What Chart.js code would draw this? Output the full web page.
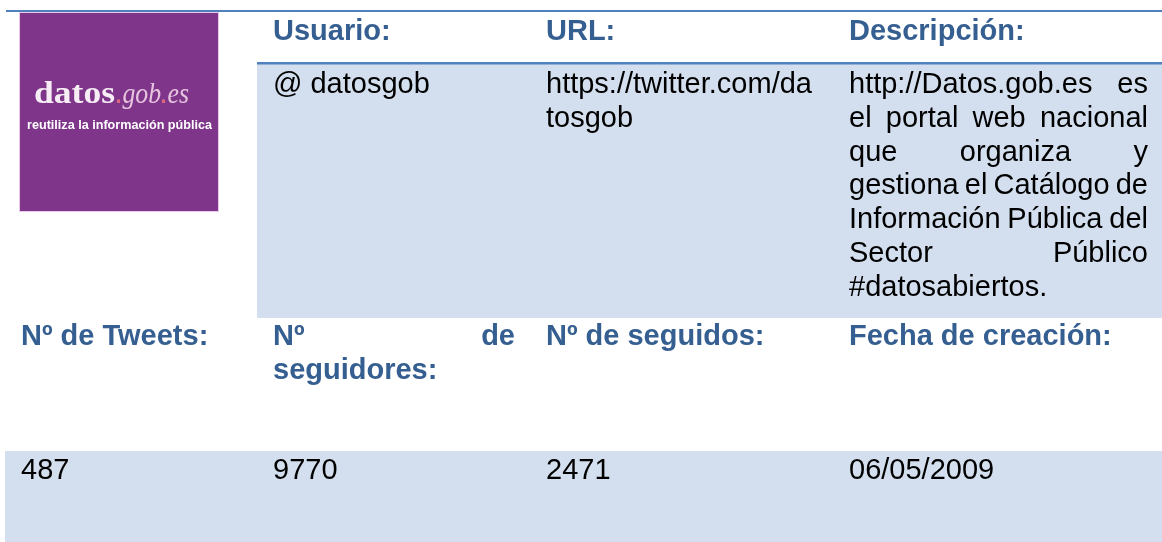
<!DOCTYPE html>
<html>
<head>
<meta charset="utf-8">
<script src="https://cdn.jsdelivr.net/npm/chart.js@4.4.1/dist/chart.umd.min.js"></script>
<style>
  html, body { margin: 0; padding: 0; background: #fff; }
  #wrap { width: 1162px; height: 542px; }
</style>
</head>
<body>
<div id="wrap"><canvas id="tabla" width="1162" height="542"></canvas></div>
<script>
// contenido de la ficha
const cabeceraSup = ['Usuario:', 'URL:', 'Descripción:'];
const usuarioLineas = ['@ datosgob'];
const urlLineas = ['https://twitter.com/da', 'tosgob'];
const descripcionLineas = [
    'http://Datos.gob.es es',
    'el portal web nacional',
    'que organiza y',
    'gestiona el Catálogo de',
    'Información Pública del',
    'Sector Público',
    '#datosabiertos.'
];
const cabeceraInf = [['Nº de Tweets:'], ['Nº de', 'seguidores:'], ['Nº de seguidos:'], ['Fecha de creación:']];
const valoresInf = ['487', '9770', '2471', '06/05/2009'];
const logoTexto = ['datos', '.gob', '.es', 'reutiliza la información pública'];

// posiciones (en unidades de la escala = px)
const colX = [21, 273, 546, 849];
const colDer = [240, 515, 818, 1148];
const lineaAlto = 33.8;
const azulTexto = '#365F91';
const azulLinea = '#4F81BD';
const relleno = '#D3DFEE';

function justificada(ctx, texto, x, y, ancho, justificar) {
    const palabras = texto.split(' ');
    if (!justificar || palabras.length < 2) {
        ctx.fillText(texto, x, y);
        return;
    }
    let total = 0;
    palabras.forEach(p => total += ctx.measureText(p).width);
    const hueco = (ancho - total) / (palabras.length - 1);
    let cx = x;
    palabras.forEach(p => {
        ctx.fillText(p, cx, y);
        cx += ctx.measureText(p).width + hueco;
    });
}

function bloque(ctx, lineas, x, y, ancho, justificar) {
    lineas.forEach((l, i) => {
        justificada(ctx, l, x, y + i * lineaAlto, ancho, justificar && i < lineas.length - 1);
    });
}

const tablaPlugin = {
    id: 'tabla',
    beforeDatasetsDraw(chart) {
        const ctx = chart.ctx;
        const xs = chart.scales.x;
        const ys = chart.scales.y;
        const X = v => xs.getPixelForValue(v);
        const Y = v => ys.getPixelForValue(v);
        const rect = (x0, y0, x1, y1, color) => {
            ctx.fillStyle = color;
            ctx.fillRect(X(x0), Y(y0), X(x1) - X(x0), Y(y1) - Y(y0));
        };

        ctx.save();
        // bandas sombreadas
        rect(257, 64, 1162, 318, relleno);
        rect(5, 451, 1162, 542, relleno);
        // lineas azules
        rect(6, 10, 1162, 12, azulLinea);
        rect(257, 62, 1162, 64.5, azulLinea);

        // logo
        rect(19, 12, 219, 212, '#E9CBE9');
        rect(20, 13, 218, 211, '#7E358A');
        ctx.textBaseline = 'alphabetic';
        ctx.textAlign = 'left';
        const dibujaAjustado = (txt, font, color, x, y, ancho) => {
            ctx.font = font;
            const w = ctx.measureText(txt).width;
            ctx.save();
            ctx.translate(X(x), Y(y));
            ctx.scale(ancho / w, 1);
            ctx.fillStyle = color;
            ctx.fillText(txt, 0, 0);
            ctx.restore();
        };
        dibujaAjustado(logoTexto[0], 'bold 31px "Liberation Serif", serif', '#F7EEF5', 34, 103, 81);
        ctx.font = 'italic 29px "Liberation Serif", serif';
        const wGob = ctx.measureText(logoTexto[1]).width;
        const wEs = ctx.measureText(logoTexto[2]).width;
        const sx = 73 / (wGob + wEs);
        ctx.save();
        ctx.translate(X(116), Y(103));
        ctx.scale(sx, 1);
        ctx.fillStyle = '#E7C5DF';
        ctx.fillText(logoTexto[1], 0, 0);
        ctx.fillText(logoTexto[2], wGob, 0);
        ctx.fillStyle = '#E5606E';
        ctx.fillText('.', 0, 0);
        ctx.fillText('.', wGob, 0);
        ctx.restore();
        dibujaAjustado(logoTexto[3], 'bold 12.5px "Liberation Sans", Arial, sans-serif', '#FFFFFF', 27, 129, 185);

        // cabecera superior
        ctx.font = 'bold 29px "Liberation Sans", Arial, sans-serif';
        ctx.fillStyle = azulTexto;
        cabeceraSup.forEach((t, i) => ctx.fillText(t, X(colX[i + 1]), Y(40)));

        // fila de datos superior
        ctx.font = '29px "Liberation Sans", Arial, sans-serif';
        ctx.fillStyle = '#000000';
        bloque(ctx, usuarioLineas, X(colX[1]), Y(93), 0, false);
        bloque(ctx, urlLineas, X(colX[2]), Y(93), 0, false);
        bloque(ctx, descripcionLineas, X(colX[3]), Y(93), X(colDer[3]) - X(colX[3]), true);

        // cabecera inferior
        ctx.font = 'bold 29px "Liberation Sans", Arial, sans-serif';
        ctx.fillStyle = azulTexto;
        cabeceraInf.forEach((lineas, i) => {
            bloque(ctx, lineas, X(colX[i]), Y(345), X(colDer[i]) - X(colX[i]), true);
        });

        // valores
        ctx.font = '29px "Liberation Sans", Arial, sans-serif';
        ctx.fillStyle = '#000000';
        valoresInf.forEach((v, i) => ctx.fillText(v, X(colX[i]), Y(479)));
        ctx.restore();
    }
};

const tablaChart = new Chart(document.getElementById('tabla'), {
    type: 'scatter',
    data: { datasets: [{ data: [] }] },
    options: {
        responsive: false,
        animation: false,
        events: [],
        layout: { padding: 0 },
        scales: {
            x: { type: 'linear', min: 0, max: 1162, display: false },
            y: { type: 'linear', min: 0, max: 542, reverse: true, display: false }
        },
        plugins: {
            legend: { display: false },
            tooltip: { enabled: false }
        }
    },
    plugins: [tablaPlugin]
});
</script>
</body>
</html>
